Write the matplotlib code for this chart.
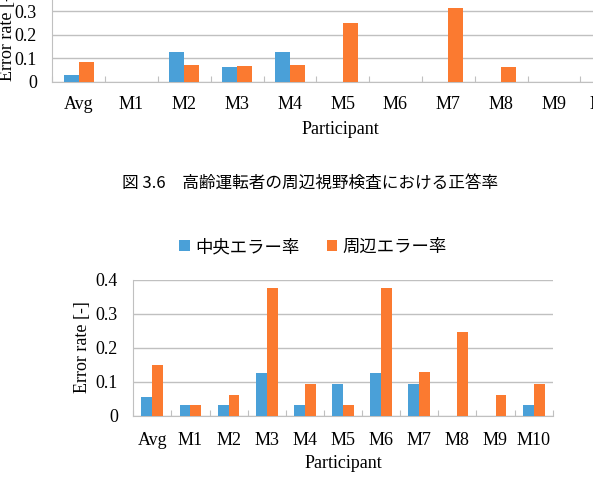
import matplotlib
matplotlib.use("Agg")
import matplotlib.pyplot as plt
import numpy as np

# データ
participants = ['Avg', 'M1', 'M2', 'M3', 'M4', 'M5', 'M6', 'M7', 'M8', 'M9', 'M10']

# 上のグラフ (一部のみ見える)
top_center = [0.03, 0, 0.125, 0.062, 0.125, 0, 0, 0, 0, 0, 0]
top_periph = [0.083, 0, 0.071, 0.067, 0.071, 0.25, 0, 0.313, 0.0625, 0, 0]

# 下のグラフ
bot_center = [0.056, 0.031, 0.031, 0.125, 0.031, 0.094, 0.125, 0.094, 0, 0, 0.031]
bot_periph = [0.150, 0.031, 0.063, 0.375, 0.094, 0.031, 0.375, 0.13, 0.247, 0.063, 0.094]

yticks = [0, 0.1, 0.2, 0.3, 0.4]
ytick_labels = ['0', '0.1', '0.2', '0.3', '0.4']

legend_labels = ['中央エラー率', '周辺エラー率']
caption = '図 3.6　高齢運転者の周辺視野検査における正答率'

blue = '#4aa0d8'
orange = '#fb7a30'
grid_c = '#c0c0c0'
serif = ['Liberation Serif', 'DejaVu Serif']
cjk = ['Noto Sans CJK JP', 'DejaVu Sans']

W, H = 593, 495
fig = plt.figure(figsize=(W / 100, H / 100), dpi=100)


def px(x, y):
    return x / W, 1 - y / H


def draw(ax, c, p, xpad):
    x = np.arange(len(participants))
    w = 0.285
    b1 = ax.bar(x - w / 2, c, w, color=blue, zorder=3)
    b2 = ax.bar(x + w / 2, p, w, color=orange, zorder=3)
    ax.set_xlim(-0.5, len(participants) - 0.5)
    ax.set_ylim(0, 0.4)
    ax.set_yticks(yticks)
    ax.set_yticklabels(ytick_labels, family=serif, fontsize=13)
    ax.yaxis.grid(True, color=grid_c, lw=1, zorder=0)
    ax.tick_params(axis='y', length=0, pad=11)
    # カテゴリ境界の目盛り
    ax.set_xticks(np.arange(len(participants) + 1) - 0.5)
    ax.set_xticklabels([])
    ax.set_xticks(x, minor=True)
    ax.set_xticklabels(participants, minor=True, family=serif, fontsize=13)
    ax.tick_params(axis='x', which='major', direction='in', length=4, color=grid_c)
    ax.tick_params(axis='x', which='minor', length=0, pad=xpad)
    for s in ['top', 'right']:
        ax.spines[s].set_visible(False)
    for s in ['left', 'bottom']:
        ax.spines[s].set_color(grid_c)
    return b1, b2


# 上のグラフ (上と右が切れている)
ax1 = fig.add_axes([52.3 / W, 1 - 82 / H, 580.8 / W, 94.4 / H])
draw(ax1, top_center, top_periph, 10)
fig.text(*px(8, 35), 'Error rate [-]', rotation=90, ha='center', va='center',
         family=serif, fontsize=13)
fig.text(*px(340, 129), 'Participant', ha='center', va='center',
         family=serif, fontsize=13)

# キャプション
fig.text(*px(310, 183), caption, ha='center', va='center', family=cjk, fontsize=12)

# 下のグラフ
ax2 = fig.add_axes([133.3 / W, 1 - 416 / H, 419.4 / W, 136.5 / H])
b1, b2 = draw(ax2, bot_center, bot_periph, 11.5)
fig.text(*px(83, 347), 'Error rate [-]', rotation=90, ha='center', va='center',
         family=serif, fontsize=13)
fig.text(*px(343, 463), 'Participant', ha='center', va='center',
         family=serif, fontsize=13)

fig.legend([b1, b2], legend_labels, loc='center', bbox_to_anchor=px(313, 247),
           ncol=2, frameon=False, prop={'family': cjk, 'size': 12.5},
           handlelength=0.6, handleheight=0.6, handletextpad=0.3, columnspacing=1.6)

fig.savefig('out.png', dpi=100)
